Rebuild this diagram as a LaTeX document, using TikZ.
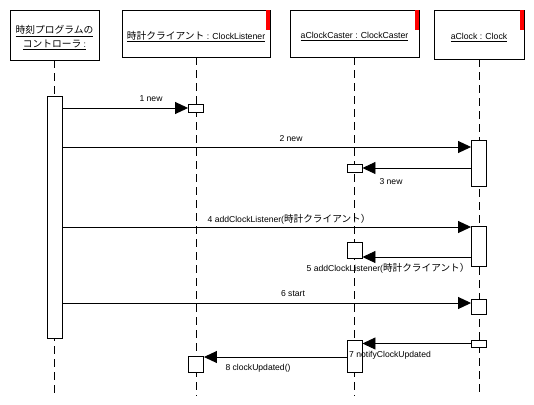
\documentclass[tikz,border=0pt]{standalone}
\usepackage{fontspec}
\setmainfont{Liberation Sans}
\newfontfamily\jp[Scale=1.12]{Noto Sans CJK JP}
\newcommand\low[1]{\raisebox{-3pt}[\height][\depth]{#1}}
\usetikzlibrary{arrows.meta}
\begin{document}
\begin{tikzpicture}[x=1pt, y=-1pt,
    obj/.style={rectangle, draw, fill=white, line width=0.9pt, inner sep=0pt, align=center, font=\fontsize{8.7}{14}\selectfont},
    act/.style={rectangle, draw, fill=white, line width=0.9pt, inner sep=0pt, minimum width=15pt},
    life/.style={dash pattern=on 8pt off 5pt, line width=0.9pt},
    msg/.style={-{Triangle[length=13pt,width=12pt]}, line width=0.9pt},
    lbl/.style={inner sep=0pt, font=\fontsize{8.6}{9}\selectfont},
    flag/.style={fill=red}]
    \useasboundingbox (0,0) rectangle (534,404);

    % objects
    \node (ctl) [obj, minimum width=89pt, minimum height=50pt] at (54.5,35) {\low{\underline{\jp 時刻プログラムの}}\\\low{\underline{\jp コントローラ\rm\ :}}};
    \node (lis) [obj, minimum width=148pt, minimum height=47pt] at (196,33.5) {\low{\underline{{\jp 時計クライアント} : ClockListener}}};
    \node (cas) [obj, minimum width=129pt, minimum height=47pt] at (354.5,33.5) {\low{\underline{aClockCaster : ClockCaster}}};
    \node (clk) [obj, minimum width=90pt, minimum height=49pt] at (479,34.5) {\low{\underline{aClock : Clock}}};
    \fill[flag] (lis.north east) rectangle ++(-4.5,20);
    \fill[flag] (cas.north east) rectangle ++(-4.5,20);
    \fill[flag] (clk.north east) rectangle ++(-4.5,20);

    % lifelines
    \coordinate (end) at (0,396);
    \draw[life] (ctl.south) -- (ctl.south |- end);
    \draw[life] (lis.south) -- (lis.south |- end);
    \draw[life] (cas.south) -- (cas.south |- end);
    \draw[life] (clk.south) -- (clk.south |- end);

    % activations
    \node (ctlact) [act, minimum height=242pt] at (ctl |- 0,217) {};
    \node (lis1) [act, minimum height=8pt] at (lis |- 0,108) {};
    \node (lis2) [act, minimum height=16pt] at (lis |- 0,364) {};
    \node (cas1) [act, minimum height=8pt] at (cas |- 0,168) {};
    \node (cas2) [act, minimum height=16pt] at (cas |- 0,250) {};
    \node (cas3) [act, minimum height=32pt] at (cas |- 0,356) {};
    \node (clk1) [act, minimum height=46pt] at (clk |- 0,163) {};
    \node (clk2) [act, minimum height=40pt] at (clk |- 0,246) {};
    \node (clk3) [act, minimum height=15pt] at (clk |- 0,306.5) {};
    \node (clk4) [act, minimum height=7pt] at (clk |- 0,343.5) {};

    % messages
    \coordinate (y2) at (0,147);
    \coordinate (y4) at (0,227);
    \coordinate (y5) at (0,257);
    \coordinate (y6) at (0,303);
    \coordinate (y8) at (0,357);
    \draw[msg] (ctlact.east |- lis1) -- (lis1.west);
    \draw[msg] (ctlact.east |- y2) -- (clk1.west |- y2);
    \draw[msg] (clk1.west |- cas1) -- (cas1.east);
    \draw[msg] (ctlact.east |- y4) -- (clk2.west |- y4);
    \draw[msg] (clk2.west |- y5) -- (cas2.east |- y5);
    \draw[msg] (ctlact.east |- y6) -- (clk3.west |- y6);
    \draw[msg] (clk4.west) -- (cas3.east |- clk4);
    \draw[msg] (cas3.west |- y8) -- (lis2.east |- y8);

    % labels
    \node (l1) [lbl] at (151,99) {1 new};
    \node (l2) [lbl] at (291,139) {2 new};
    \node (l3) [lbl] at (391,182) {3 new};
    \node (l4) [lbl] at (289,219) {4 addClockListener({\jp 時計クライアント）}};
    \node (l5) [lbl] at (388,268) {5 addClockListener({\jp 時計クライアント）}};
    \node (l6) [lbl] at (293,294) {6 start};
    \node (l7) [lbl, anchor=west] at (349,355) {7 notifyClockUpdated};
    \node (l8) [lbl] at (258,368) {8 clockUpdated()};
\end{tikzpicture}
\end{document}
